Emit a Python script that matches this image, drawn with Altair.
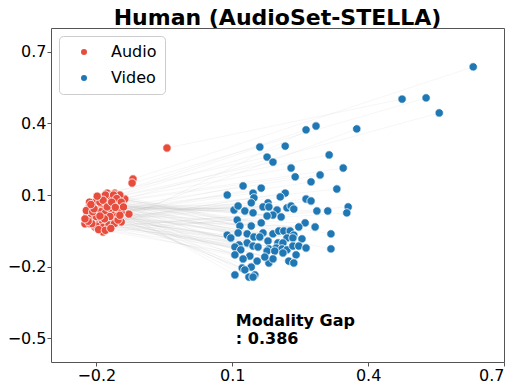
import altair as alt
import pandas as pd

title_text = "Human (AudioSet-STELLA)"
modality_names = ["Audio", "Video"]
modality_colors = ["#E74C3C", "#1F77B4"]
gap_value = 0.386
x_ticks = [-0.2, 0.1, 0.4, 0.7]
y_ticks = [-0.5, -0.2, 0.1, 0.4, 0.7]

audio_x = [-0.119, -0.044, -0.121, -0.137, -0.128, -0.145, -0.159, -0.154, -0.148, -0.176,
           -0.190, -0.201, -0.165, -0.185, -0.170, -0.154, -0.152, -0.170, -0.190, -0.207,
           -0.216, -0.221, -0.225, -0.214, -0.198, -0.185, -0.163, -0.176, -0.187, -0.185,
           -0.203, -0.212, -0.192, -0.207, -0.174, -0.161,
           -0.195, -0.182, -0.175, -0.168, -0.160, -0.200, -0.210, -0.188, -0.178, -0.172,
           -0.185, -0.195, -0.205, -0.215, -0.220, -0.212, -0.205, -0.195, -0.185, -0.175,
           -0.165, -0.158, -0.150, -0.158, -0.165, -0.170, -0.180, -0.162, -0.155, -0.145,
           -0.150, -0.145, -0.155, -0.165, -0.178, -0.190, -0.200, -0.210, -0.218, -0.225,
           -0.222, -0.215, -0.198, -0.190, -0.180, -0.170, -0.162, -0.175, -0.192, -0.200,
           -0.208, -0.185, -0.172, -0.160, -0.195, -0.180, -0.168, -0.152, -0.148, -0.140,
           -0.185, -0.170, -0.182, -0.192, -0.205, -0.212, -0.176, -0.166, -0.158, -0.198]
audio_y = [0.167, 0.297, 0.150, 0.083, 0.020, -0.013, 0.108, 0.100, 0.100, 0.108,
           0.079, 0.075, 0.079, 0.067, 0.067, 0.050, 0.029, 0.029, 0.016, 0.016,
           0.029, 0.008, -0.021, -0.021, -0.017, -0.009, -0.009, -0.034, -0.042, -0.055,
           -0.034, 0.037, 0.050, 0.058, 0.004, 0.008,
           0.040, 0.045, 0.035, 0.055, 0.040, 0.055, 0.045, 0.060, 0.072, 0.085,
           0.090, 0.085, 0.068, 0.055, 0.020, 0.005, -0.005, 0.000, 0.010, 0.015,
           0.020, 0.025, 0.060, 0.070, 0.088, 0.095, 0.100, 0.100, 0.085, 0.070,
           0.040, 0.030, 0.010, -0.005, -0.015, -0.025, -0.030, -0.020, -0.010, 0.000,
           0.035, 0.070, 0.025, 0.030, 0.025, 0.045, 0.058, 0.060, 0.070, 0.010,
           0.030, -0.035, -0.025, -0.020, -0.045, -0.048, -0.040, -0.005, 0.015, 0.050,
           0.078, 0.010, 0.000, 0.012, 0.042, 0.060, 0.050, 0.070, 0.048, 0.095]

video_x = [0.632, 0.475, 0.528, 0.557, 0.375, 0.285, 0.263, 0.161, 0.217, 0.177,
           0.190, 0.314, 0.230, 0.345, 0.239, 0.294, 0.274, 0.124, 0.164, 0.331,
           0.089, 0.146, 0.217, 0.206, 0.148, 0.263, 0.274, 0.356, 0.353, 0.311,
           0.287, 0.104, 0.128, 0.146, 0.113, 0.142, 0.179, 0.168, 0.181, 0.199,
           0.221, 0.230, 0.236, 0.190, 0.177, 0.208, 0.111, 0.117, 0.164, 0.142,
           0.261, 0.247, 0.283, 0.089, 0.097, 0.113, 0.133, 0.148, 0.168, 0.161,
           0.190, 0.203, 0.214, 0.228, 0.318, 0.236, 0.221, 0.234, 0.254, 0.179,
           0.201, 0.212, 0.133, 0.115, 0.106, 0.146, 0.157, 0.181, 0.197, 0.210,
           0.221, 0.234, 0.247, 0.263, 0.318, 0.119, 0.177, 0.194, 0.212, 0.106,
           0.139, 0.241, 0.155, 0.181, 0.190, 0.225, 0.124, 0.172, 0.236, 0.142,
           0.122, 0.128, 0.137, 0.150, 0.106, 0.146]
video_y = [0.637, 0.502, 0.507, 0.444, 0.377, 0.389, 0.373, 0.301, 0.305, 0.259,
           0.238, 0.268, 0.213, 0.213, 0.176, 0.184, 0.155, 0.138, 0.129, 0.125,
           0.100, 0.108, 0.108, 0.092, 0.088, 0.083, 0.075, 0.050, 0.025, 0.033,
           0.033, 0.037, 0.033, 0.025, 0.054, 0.067, 0.067, 0.050, 0.050, 0.037,
           0.046, 0.054, 0.041, 0.016, 0.012, 0.008, -0.005, -0.030, -0.017, -0.030,
           -0.017, -0.034, -0.034, -0.068, -0.080, -0.059, -0.063, -0.076, -0.059, -0.076,
           -0.063, -0.051, -0.051, -0.051, -0.063, -0.068, -0.080, -0.080, -0.084, -0.093,
           -0.101, -0.101, -0.101, -0.109, -0.118, -0.114, -0.118, -0.126, -0.122, -0.126,
           -0.130, -0.114, -0.114, -0.122, -0.126, -0.130, -0.135, -0.135, -0.143, -0.151,
           -0.156, -0.151, -0.177, -0.185, -0.168, -0.177, -0.168, -0.160, -0.185, -0.202,
           -0.206, -0.214, -0.244, -0.235, -0.235, -0.244]

n = min(len(audio_x), len(video_x))
pairs = pd.DataFrame({
    "ax": audio_x[:n], "ay": audio_y[:n],
    "vx": video_x[:n], "vy": video_y[:n],
})
points = pd.concat([
    pd.DataFrame({"x": audio_x, "y": audio_y, "Modality": modality_names[0]}),
    pd.DataFrame({"x": video_x, "y": video_y, "Modality": modality_names[1]}),
], ignore_index=True)
label_df = pd.DataFrame({"x": [0.108], "y": [-0.395],
                         "t": [f"Modality Gap\n: {gap_value:.3f}"]})

xs = alt.Scale(domain=[-0.3, 0.7], nice=False, zero=False)
ys = alt.Scale(domain=[-0.6, 0.8], nice=False, zero=False)
xax = alt.Axis(values=x_ticks, format=".1f", title=None, grid=False)
yax = alt.Axis(values=y_ticks, format=".1f", title=None, grid=False)

lines = alt.Chart(pairs).mark_rule(color="#bbbbbb", strokeWidth=0.5, opacity=0.25).encode(
    x=alt.X("ax:Q", scale=xs, axis=xax),
    y=alt.Y("ay:Q", scale=ys, axis=yax),
    x2="vx:Q",
    y2="vy:Q",
)

dots = alt.Chart(points).mark_circle(size=70, opacity=1, stroke="white", strokeWidth=0.8).encode(
    x=alt.X("x:Q", scale=xs, axis=xax),
    y=alt.Y("y:Q", scale=ys, axis=yax),
    color=alt.Color("Modality:N",
                    scale=alt.Scale(domain=modality_names, range=modality_colors),
                    legend=alt.Legend(title=None, orient="top-left", offset=8,
                                      fillColor="white", strokeColor="#cccccc",
                                      cornerRadius=4, padding=8, rowPadding=10,
                                      symbolOffset=9, labelOffset=19,
                                      symbolSize=36, symbolStrokeWidth=0,
                                      labelFontSize=16, labelFont="DejaVu Sans",
                                      labelColor="black")),
)

label = alt.Chart(label_df).mark_text(
    align="left", baseline="top", fontSize=16, fontWeight="bold",
    font="DejaVu Sans", lineBreak="\n", lineHeight=18, color="black"
).encode(x=alt.X("x:Q", scale=xs), y=alt.Y("y:Q", scale=ys), text="t:N")

chart = alt.layer(lines, dots, label).properties(
    width=453, height=334,
    title=alt.TitleParams(title_text, fontSize=22, fontWeight="bold", font="DejaVu Sans",
                          anchor="middle", offset=-2, color="black"),
    autosize=alt.AutoSizeParams(type="none"),
    padding={"left": 43, "top": 20, "right": 19, "bottom": 20},
).configure_view(stroke="#555555", strokeWidth=1).configure_axis(
    labelFont="DejaVu Sans", labelFontSize=16, labelColor="black",
    domain=False, tickColor="#555555", tickSize=4, labelPadding=1,
)

chart.save("out.html", embed_options={"renderer": "svg", "actions": False})
